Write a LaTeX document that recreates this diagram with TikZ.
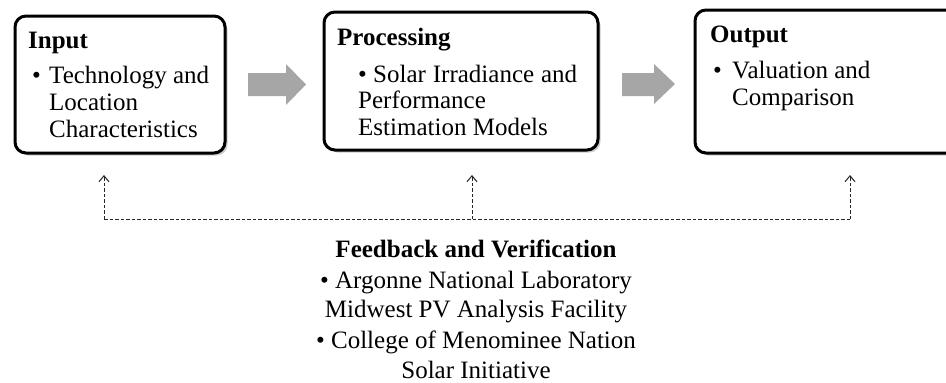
\documentclass[tikz,border=0pt]{standalone}
\usepackage{fontspec}
\setmainfont{Liberation Serif}
\usetikzlibrary{arrows.meta,shadows}
\definecolor{arrowgray}{HTML}{A6A6A6}
\definecolor{dashgray}{HTML}{262626}
\newcommand\bigfs{\fontsize{25}{29}\selectfont}
\tikzset{
  x=1pt, y=-1pt,
  box/.style={draw=black, line width=3pt, rounded corners=11pt, fill=white,
    drop shadow={opacity=0.4, shadow xshift=2.5pt, shadow yshift=-2.5pt}},
  txt/.style={font=\bigfs, inner sep=0pt, anchor=base west},
  ttl/.style={font=\bigfs\bfseries, inner sep=0pt, anchor=base west},
  ctr/.style={font=\bigfs, inner sep=0pt, anchor=base},
  bigarrow/.style={fill=arrowgray},
  fb/.style={draw=dashgray, line width=1pt, dash pattern=on 3.5pt off 2pt},
  fbtip/.style={fb, -{Straight Barb[length=6pt,width=10pt,line width=1pt]}}
}
\begin{document}
\begin{tikzpicture}
\clip (0,0) rectangle (946,383);
\fill[white] (0,0) rectangle (946,383);
% boxes
\node[box, minimum width=210pt, minimum height=137pt] (input) at (120,84.5) {};
\node[box, minimum width=274pt, minimum height=138pt] (proc) at (461,81) {};
\node[box, minimum width=265pt, minimum height=143pt] (output) at (827.5,81.5) {};
% grey arrows
\fill[bigarrow] (248,73) -- (286,73) -- (286,64) -- (306,84.5) -- (286,105) -- (286,96) -- (248,96) -- cycle;
\fill[bigarrow] (622,73) -- (654,73) -- (654,64) -- (675,84) -- (654,104) -- (654,96) -- (622,96) -- cycle;
% Input text
\node[ttl] (inT) at (28,48) {Input};
\node[txt] (inB) at (32,83) {•};
\node[txt] (in1) at (49,83) {Technology and};
\node[txt] (in2) at (49,110) {Location};
\node[txt] (in3) at (49,137) {Characteristics};
% Processing text
\node[ttl] (prT) at (337,45) {Processing};
\node[txt] (pr1) at (358,82) {\hbox to 219pt{•\ Solar\hfill\ Irradiance\hfill\ and}};
\node[txt] (pr2) at (358,108) {Performance};
\node[txt] (pr3) at (358,135) {Estimation Models};
% Output text
\node[ttl] (ouT) at (710,42) {Output};
\node[txt] (ouB) at (713,78) {•};
\node[txt] (ou1) at (732,78) {Valuation and};
\node[txt] (ou2) at (732,105) {Comparison};
% feedback connectors
\coordinate (f1) at (104,219);
\coordinate (f2) at (472,219);
\coordinate (f3) at (850,219);
\coordinate (t1) at (104,175);
\coordinate (t2) at (472,175);
\coordinate (t3) at (850,175);
\draw[fb] (f1) -- (f3);
\draw[fbtip] (f1) -- (t1);
\draw[fbtip] (f2) -- (t2);
\draw[fbtip] (f3) -- (t3);
% feedback text
\node[ctr, font=\bigfs\bfseries] (fbT) at (476,257) {Feedback and Verification};
\node[ctr] (fb1) at (476,288) {• Argonne National Laboratory};
\node[ctr] (fb2) at (476,317) {Midwest PV Analysis Facility};
\node[ctr] (fb3) at (476,348) {• College of Menominee Nation};
\node[ctr] (fb4) at (476,378) {Solar Initiative};
\end{tikzpicture}
\end{document}
